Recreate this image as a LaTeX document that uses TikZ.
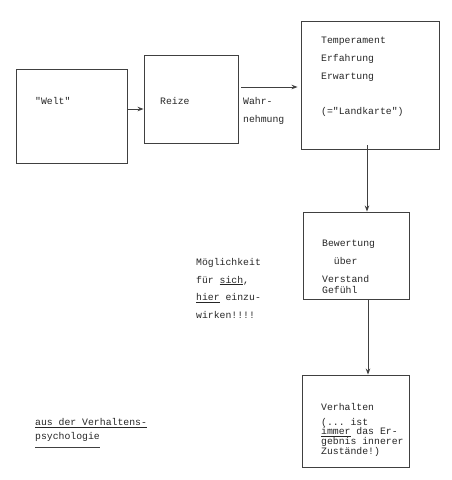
\documentclass[tikz,border=0pt]{standalone}
\usepackage{fontspec}
\setmonofont{Liberation Mono}
\usetikzlibrary{arrows.meta}

\begin{document}
\begin{tikzpicture}[x=1pt,y=-1pt,
        box/.style={draw=black!75, line width=0.9pt, inner sep=0pt},
        txt/.style={inner sep=0pt, anchor=north west, align=left, text=black!85,
                    font=\ttfamily\fontsize{9.8}{17.8}\selectfont},
        arr/.style={-{Stealth[length=6pt,width=4.5pt]}, draw=black!75, line width=0.9pt}
        ]
        \useasboundingbox (0,0) rectangle (452,480);
        % Kaesten
        \node[box, minimum width=111pt, minimum height=94pt] (welt) at (71.5,116) {};
        \node[box, minimum width=94pt, minimum height=88pt] (reize) at (191,99) {};
        \node[box, minimum width=138pt, minimum height=128pt] (karte) at (370,85) {};
        \node[box, minimum width=106pt, minimum height=87pt] (bewertung) at (356,255.5) {};
        \node[box, minimum width=107pt, minimum height=92pt] (verhalten) at (355.5,421) {};
        % Texte
        \node[txt] (tw) at (35,97) {"Welt"};
        \node[txt] (tr) at (160,97) {Reize};
        \node[txt] (twahr) at (243,97) {Wahr-\\nehmung};
        \node[txt] (tk) at (321,37) {Temperament\\Erfahrung\\Erwartung\\[17.8pt](="Landkarte")};
        \node[txt] (tb) at (322,240) {Bewertung\\\ \ über\\Verstand\\[-7pt]Gefühl};
        \node[txt] (tm) at (196,258) {Möglichkeit\\für \underline{sich},\\\underline{hier} einzu-\\wirken!!!!};
        \node[txt] (tv) at (321,403) {Verhalten\\[-3pt](... ist\\[-8pt]\underline{immer} das Er-\\[-8pt]gebnis innerer\\[-8pt]Zustände!)};
        \node[txt] (ta) at (35,418) {\underline{aus der Verhaltens-}\\[-4pt]psychologie};
        \draw[draw=black!75, line width=0.6pt] (ta.south west) ++(0,6) -- ++(65,0);
        % Pfeile
        \draw[arr] (welt.east |- 0,109) -- (reize.west |- 0,109);
        \draw[arr] ([xshift=3pt]reize.east |- 0,87) -- ([xshift=-3pt]karte.west |- 0,87);
        \draw[arr] ([yshift=4pt]karte.south -| 367,0) -- (bewertung.north -| 367,0);
        \draw[arr] (bewertung.south -| 368,0) -- (verhalten.north -| 368,0);
\end{tikzpicture}
\end{document}
